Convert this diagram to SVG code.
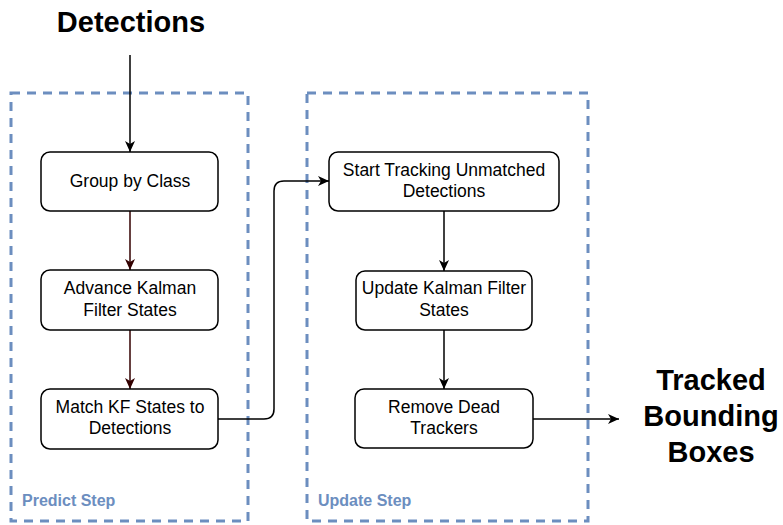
<svg xmlns="http://www.w3.org/2000/svg" width="783" height="525" viewBox="0 0 783 525">
  <defs>
    <marker id="arrow-black" viewBox="0 0 12 12" refX="11" refY="6" markerWidth="12" markerHeight="12" markerUnits="userSpaceOnUse" orient="auto">
      <path d="M0,1 L11,6 L0,11 L3,6 Z" fill="#000000"/>
    </marker>
    <marker id="arrow-brown" viewBox="0 0 12 12" refX="11" refY="6" markerWidth="12" markerHeight="12" markerUnits="userSpaceOnUse" orient="auto">
      <path d="M0,1 L11,6 L0,11 L3,6 Z" fill="#330000"/>
    </marker>
  </defs>
  <style>
    .step { fill: none; stroke: #6C8EBF; stroke-width: 3; stroke-dasharray: 9 7; }
    .step-label { font-family: "Liberation Sans", Arial, sans-serif; font-weight: bold; font-size: 16px; fill: #6C8EBF; }
    .node rect { fill: #ffffff; stroke: #000000; stroke-width: 1.5; }
    .node text { font-family: "Liberation Sans", Arial, sans-serif; font-size: 17.5px; fill: #000000; text-anchor: middle; }
    .title { font-family: "Liberation Sans", Arial, sans-serif; font-weight: bold; font-size: 29px; fill: #000000; text-anchor: middle; }
    .edge { fill: none; stroke: #000000; stroke-width: 1.5; }
    .edge-brown { fill: none; stroke: #330000; stroke-width: 1.5; }
  </style>

  <rect width="783" height="525" fill="#ffffff"/>

  <!-- step containers -->
  <g id="predict-step">
    <rect class="step" x="11" y="93" width="237" height="428"/>
    <text class="step-label" x="22" y="506">Predict Step</text>
  </g>
  <g id="update-step">
    <rect class="step" x="307" y="93" width="281" height="428"/>
    <text class="step-label" x="318" y="506">Update Step</text>
  </g>

  <!-- input / output labels -->
  <g id="detections">
    <text class="title" x="131" y="32">Detections</text>
  </g>
  <g id="tracked-boxes">
    <text class="title" x="711" y="390">Tracked</text>
    <text class="title" x="711" y="426">Bounding</text>
    <text class="title" x="711" y="462">Boxes</text>
  </g>

  <!-- connectors -->
  <g id="connectors">
    <line class="edge" x1="130" y1="55" x2="130" y2="152" marker-end="url(#arrow-black)"/>
    <line class="edge-brown" x1="130" y1="211" x2="130" y2="270" marker-end="url(#arrow-brown)"/>
    <line class="edge-brown" x1="130" y1="330" x2="130" y2="389" marker-end="url(#arrow-brown)"/>
    <path class="edge" d="M218,419 L264,419 Q274,419 274,409 L274,191 Q274,181 284,181 L329,181" marker-end="url(#arrow-black)"/>
    <line class="edge" x1="444" y1="211" x2="444" y2="271" marker-end="url(#arrow-black)"/>
    <line class="edge" x1="444" y1="330" x2="444" y2="389" marker-end="url(#arrow-black)"/>
    <line class="edge" x1="533" y1="419" x2="619" y2="419" marker-end="url(#arrow-black)"/>
  </g>

  <!-- predict step nodes -->
  <g id="group-by-class" class="node">
    <rect x="41" y="152" width="177" height="59" rx="9"/>
    <text x="130" y="187">Group by Class</text>
  </g>
  <g id="advance-kalman" class="node">
    <rect x="41" y="270" width="177" height="60" rx="9"/>
    <text x="130" y="294">Advance Kalman</text>
    <text x="130" y="316">Filter States</text>
  </g>
  <g id="match-kf" class="node">
    <rect x="41" y="389" width="177" height="60" rx="9"/>
    <text x="130" y="413">Match KF States to</text>
    <text x="130" y="434">Detections</text>
  </g>

  <!-- update step nodes -->
  <g id="start-tracking" class="node">
    <rect x="329" y="152" width="230" height="59" rx="9"/>
    <text x="444" y="176">Start Tracking Unmatched</text>
    <text x="444" y="197">Detections</text>
  </g>
  <g id="update-kalman" class="node">
    <rect x="356" y="271" width="176" height="59" rx="9"/>
    <text x="444" y="294">Update Kalman Filter</text>
    <text x="444" y="316">States</text>
  </g>
  <g id="remove-dead" class="node">
    <rect x="355" y="389" width="178" height="59" rx="9"/>
    <text x="444" y="413">Remove Dead</text>
    <text x="444" y="434">Trackers</text>
  </g>
</svg>
